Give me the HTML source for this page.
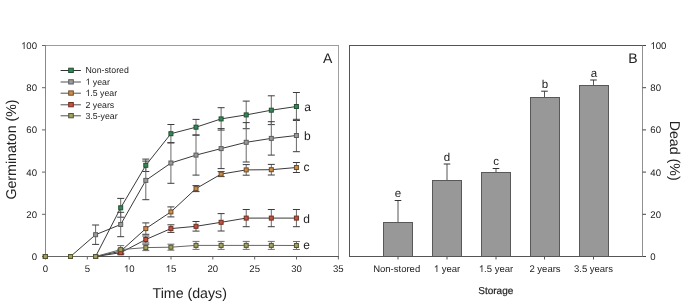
<!DOCTYPE html><html><head><meta charset="utf-8"><style>html,body{margin:0;padding:0;background:#fff;}svg{display:block;will-change:transform;}text{font-family:"Liberation Sans",sans-serif;fill:#222;text-rendering:geometricPrecision;}</style></head><body>
<svg width="685" height="304" viewBox="0 0 685 304">
<rect width="685" height="304" fill="#ffffff"/>
<line x1="45" y1="45.5" x2="339" y2="45.5" stroke="#9c9c9c" stroke-width="1"/>
<line x1="338.5" y1="45" x2="338.5" y2="257" stroke="#a0a0a0" stroke-width="1"/>
<line x1="45.5" y1="45" x2="45.5" y2="257" stroke="#888" stroke-width="1"/>
<line x1="45" y1="256.5" x2="339" y2="256.5" stroke="#555" stroke-width="1"/>
<line x1="42" y1="256.50" x2="45.5" y2="256.50" stroke="#666" stroke-width="1"/>
<text x="37.00" y="259.90" font-size="9.6" text-anchor="end">0</text>
<line x1="42" y1="214.30" x2="45.5" y2="214.30" stroke="#666" stroke-width="1"/>
<text x="37.00" y="217.70" font-size="9.6" text-anchor="end">20</text>
<line x1="42" y1="172.10" x2="45.5" y2="172.10" stroke="#666" stroke-width="1"/>
<text x="37.00" y="175.50" font-size="9.6" text-anchor="end">40</text>
<line x1="42" y1="129.90" x2="45.5" y2="129.90" stroke="#666" stroke-width="1"/>
<text x="37.00" y="133.30" font-size="9.6" text-anchor="end">60</text>
<line x1="42" y1="87.70" x2="45.5" y2="87.70" stroke="#666" stroke-width="1"/>
<text x="37.00" y="91.10" font-size="9.6" text-anchor="end">80</text>
<line x1="42" y1="45.50" x2="45.5" y2="45.50" stroke="#666" stroke-width="1"/>
<text x="20.98" y="48.90" font-size="9.6" style="font-kerning:none"> 00</text><path d="M763 0H583V1147C540 1106 483 1064 412 1023C342 982 278 951 221 930V1104C324 1152 412 1209 485 1276C558 1343 613 1408 645 1472H763Z" fill="#222" transform="translate(20.983,48.900) scale(0.00469,-0.00469)"/>
<line x1="45.50" y1="256.5" x2="45.50" y2="259.5" stroke="#666" stroke-width="1"/>
<text x="45.50" y="272.00" font-size="9.6" text-anchor="middle">0</text>
<line x1="87.34" y1="256.5" x2="87.34" y2="259.5" stroke="#666" stroke-width="1"/>
<text x="87.34" y="272.00" font-size="9.6" text-anchor="middle">5</text>
<line x1="129.17" y1="256.5" x2="129.17" y2="259.5" stroke="#666" stroke-width="1"/>
<text x="123.83" y="272.00" font-size="9.6" style="font-kerning:none"> 0</text><path d="M763 0H583V1147C540 1106 483 1064 412 1023C342 982 278 951 221 930V1104C324 1152 412 1209 485 1276C558 1343 613 1408 645 1472H763Z" fill="#222" transform="translate(123.831,272.000) scale(0.00469,-0.00469)"/>
<line x1="171.00" y1="256.5" x2="171.00" y2="259.5" stroke="#666" stroke-width="1"/>
<text x="165.67" y="272.00" font-size="9.6" style="font-kerning:none"> 5</text><path d="M763 0H583V1147C540 1106 483 1064 412 1023C342 982 278 951 221 930V1104C324 1152 412 1209 485 1276C558 1343 613 1408 645 1472H763Z" fill="#222" transform="translate(165.666,272.000) scale(0.00469,-0.00469)"/>
<line x1="212.84" y1="256.5" x2="212.84" y2="259.5" stroke="#666" stroke-width="1"/>
<text x="212.84" y="272.00" font-size="9.6" text-anchor="middle">20</text>
<line x1="254.68" y1="256.5" x2="254.68" y2="259.5" stroke="#666" stroke-width="1"/>
<text x="254.68" y="272.00" font-size="9.6" text-anchor="middle">25</text>
<line x1="296.51" y1="256.5" x2="296.51" y2="259.5" stroke="#666" stroke-width="1"/>
<text x="296.51" y="272.00" font-size="9.6" text-anchor="middle">30</text>
<line x1="338.35" y1="256.5" x2="338.35" y2="259.5" stroke="#666" stroke-width="1"/>
<text x="338.35" y="272.00" font-size="9.6" text-anchor="middle">35</text>
<line x1="120.70" y1="198.40" x2="120.70" y2="217.20" stroke="#6a6a6a" stroke-width="1"/>
<line x1="117.20" y1="198.40" x2="124.20" y2="198.40" stroke="#3c3c3c" stroke-width="1"/>
<line x1="117.20" y1="217.20" x2="124.20" y2="217.20" stroke="#3c3c3c" stroke-width="1"/>
<line x1="145.80" y1="159.10" x2="145.80" y2="171.50" stroke="#6a6a6a" stroke-width="1"/>
<line x1="142.30" y1="159.10" x2="149.30" y2="159.10" stroke="#3c3c3c" stroke-width="1"/>
<line x1="142.30" y1="171.50" x2="149.30" y2="171.50" stroke="#3c3c3c" stroke-width="1"/>
<line x1="170.91" y1="124.50" x2="170.91" y2="142.90" stroke="#6a6a6a" stroke-width="1"/>
<line x1="167.41" y1="124.50" x2="174.41" y2="124.50" stroke="#3c3c3c" stroke-width="1"/>
<line x1="167.41" y1="142.90" x2="174.41" y2="142.90" stroke="#3c3c3c" stroke-width="1"/>
<line x1="196.01" y1="119.40" x2="196.01" y2="135.00" stroke="#6a6a6a" stroke-width="1"/>
<line x1="192.51" y1="119.40" x2="199.51" y2="119.40" stroke="#3c3c3c" stroke-width="1"/>
<line x1="192.51" y1="135.00" x2="199.51" y2="135.00" stroke="#3c3c3c" stroke-width="1"/>
<line x1="221.11" y1="107.70" x2="221.11" y2="130.10" stroke="#6a6a6a" stroke-width="1"/>
<line x1="217.61" y1="107.70" x2="224.61" y2="107.70" stroke="#3c3c3c" stroke-width="1"/>
<line x1="217.61" y1="130.10" x2="224.61" y2="130.10" stroke="#3c3c3c" stroke-width="1"/>
<line x1="246.21" y1="101.10" x2="246.21" y2="128.70" stroke="#6a6a6a" stroke-width="1"/>
<line x1="242.71" y1="101.10" x2="249.71" y2="101.10" stroke="#3c3c3c" stroke-width="1"/>
<line x1="242.71" y1="128.70" x2="249.71" y2="128.70" stroke="#3c3c3c" stroke-width="1"/>
<line x1="271.31" y1="95.80" x2="271.31" y2="124.60" stroke="#6a6a6a" stroke-width="1"/>
<line x1="267.81" y1="95.80" x2="274.81" y2="95.80" stroke="#3c3c3c" stroke-width="1"/>
<line x1="267.81" y1="124.60" x2="274.81" y2="124.60" stroke="#3c3c3c" stroke-width="1"/>
<line x1="296.41" y1="92.50" x2="296.41" y2="120.50" stroke="#6a6a6a" stroke-width="1"/>
<line x1="292.91" y1="92.50" x2="299.91" y2="92.50" stroke="#3c3c3c" stroke-width="1"/>
<line x1="292.91" y1="120.50" x2="299.91" y2="120.50" stroke="#3c3c3c" stroke-width="1"/>
<line x1="95.60" y1="225.00" x2="95.60" y2="244.40" stroke="#6a6a6a" stroke-width="1"/>
<line x1="92.10" y1="225.00" x2="99.10" y2="225.00" stroke="#3c3c3c" stroke-width="1"/>
<line x1="92.10" y1="244.40" x2="99.10" y2="244.40" stroke="#3c3c3c" stroke-width="1"/>
<line x1="120.70" y1="212.30" x2="120.70" y2="236.70" stroke="#6a6a6a" stroke-width="1"/>
<line x1="117.20" y1="212.30" x2="124.20" y2="212.30" stroke="#3c3c3c" stroke-width="1"/>
<line x1="117.20" y1="236.70" x2="124.20" y2="236.70" stroke="#3c3c3c" stroke-width="1"/>
<line x1="145.80" y1="161.10" x2="145.80" y2="199.70" stroke="#6a6a6a" stroke-width="1"/>
<line x1="142.30" y1="161.10" x2="149.30" y2="161.10" stroke="#3c3c3c" stroke-width="1"/>
<line x1="142.30" y1="199.70" x2="149.30" y2="199.70" stroke="#3c3c3c" stroke-width="1"/>
<line x1="170.91" y1="142.70" x2="170.91" y2="183.30" stroke="#6a6a6a" stroke-width="1"/>
<line x1="167.41" y1="142.70" x2="174.41" y2="142.70" stroke="#3c3c3c" stroke-width="1"/>
<line x1="167.41" y1="183.30" x2="174.41" y2="183.30" stroke="#3c3c3c" stroke-width="1"/>
<line x1="196.01" y1="135.10" x2="196.01" y2="175.10" stroke="#6a6a6a" stroke-width="1"/>
<line x1="192.51" y1="135.10" x2="199.51" y2="135.10" stroke="#3c3c3c" stroke-width="1"/>
<line x1="192.51" y1="175.10" x2="199.51" y2="175.10" stroke="#3c3c3c" stroke-width="1"/>
<line x1="221.11" y1="128.60" x2="221.11" y2="168.60" stroke="#6a6a6a" stroke-width="1"/>
<line x1="217.61" y1="128.60" x2="224.61" y2="128.60" stroke="#3c3c3c" stroke-width="1"/>
<line x1="217.61" y1="168.60" x2="224.61" y2="168.60" stroke="#3c3c3c" stroke-width="1"/>
<line x1="246.21" y1="122.60" x2="246.21" y2="162.00" stroke="#6a6a6a" stroke-width="1"/>
<line x1="242.71" y1="122.60" x2="249.71" y2="122.60" stroke="#3c3c3c" stroke-width="1"/>
<line x1="242.71" y1="162.00" x2="249.71" y2="162.00" stroke="#3c3c3c" stroke-width="1"/>
<line x1="271.31" y1="121.70" x2="271.31" y2="155.10" stroke="#6a6a6a" stroke-width="1"/>
<line x1="267.81" y1="121.70" x2="274.81" y2="121.70" stroke="#3c3c3c" stroke-width="1"/>
<line x1="267.81" y1="155.10" x2="274.81" y2="155.10" stroke="#3c3c3c" stroke-width="1"/>
<line x1="296.41" y1="119.30" x2="296.41" y2="151.70" stroke="#6a6a6a" stroke-width="1"/>
<line x1="292.91" y1="119.30" x2="299.91" y2="119.30" stroke="#3c3c3c" stroke-width="1"/>
<line x1="292.91" y1="151.70" x2="299.91" y2="151.70" stroke="#3c3c3c" stroke-width="1"/>
<line x1="120.70" y1="249.20" x2="120.70" y2="253.20" stroke="#6a6a6a" stroke-width="1"/>
<line x1="117.20" y1="249.20" x2="124.20" y2="249.20" stroke="#3c3c3c" stroke-width="1"/>
<line x1="117.20" y1="253.20" x2="124.20" y2="253.20" stroke="#3c3c3c" stroke-width="1"/>
<line x1="145.80" y1="222.90" x2="145.80" y2="234.30" stroke="#6a6a6a" stroke-width="1"/>
<line x1="142.30" y1="222.90" x2="149.30" y2="222.90" stroke="#3c3c3c" stroke-width="1"/>
<line x1="142.30" y1="234.30" x2="149.30" y2="234.30" stroke="#3c3c3c" stroke-width="1"/>
<line x1="170.91" y1="206.90" x2="170.91" y2="216.90" stroke="#6a6a6a" stroke-width="1"/>
<line x1="167.41" y1="206.90" x2="174.41" y2="206.90" stroke="#3c3c3c" stroke-width="1"/>
<line x1="167.41" y1="216.90" x2="174.41" y2="216.90" stroke="#3c3c3c" stroke-width="1"/>
<line x1="196.01" y1="185.60" x2="196.01" y2="191.60" stroke="#6a6a6a" stroke-width="1"/>
<line x1="192.51" y1="185.60" x2="199.51" y2="185.60" stroke="#3c3c3c" stroke-width="1"/>
<line x1="192.51" y1="191.60" x2="199.51" y2="191.60" stroke="#3c3c3c" stroke-width="1"/>
<line x1="221.11" y1="171.60" x2="221.11" y2="176.60" stroke="#6a6a6a" stroke-width="1"/>
<line x1="217.61" y1="171.60" x2="224.61" y2="171.60" stroke="#3c3c3c" stroke-width="1"/>
<line x1="217.61" y1="176.60" x2="224.61" y2="176.60" stroke="#3c3c3c" stroke-width="1"/>
<line x1="246.21" y1="164.60" x2="246.21" y2="175.20" stroke="#6a6a6a" stroke-width="1"/>
<line x1="242.71" y1="164.60" x2="249.71" y2="164.60" stroke="#3c3c3c" stroke-width="1"/>
<line x1="242.71" y1="175.20" x2="249.71" y2="175.20" stroke="#3c3c3c" stroke-width="1"/>
<line x1="271.31" y1="164.40" x2="271.31" y2="175.00" stroke="#6a6a6a" stroke-width="1"/>
<line x1="267.81" y1="164.40" x2="274.81" y2="164.40" stroke="#3c3c3c" stroke-width="1"/>
<line x1="267.81" y1="175.00" x2="274.81" y2="175.00" stroke="#3c3c3c" stroke-width="1"/>
<line x1="296.41" y1="162.50" x2="296.41" y2="172.50" stroke="#6a6a6a" stroke-width="1"/>
<line x1="292.91" y1="162.50" x2="299.91" y2="162.50" stroke="#3c3c3c" stroke-width="1"/>
<line x1="292.91" y1="172.50" x2="299.91" y2="172.50" stroke="#3c3c3c" stroke-width="1"/>
<line x1="120.70" y1="250.70" x2="120.70" y2="254.70" stroke="#6a6a6a" stroke-width="1"/>
<line x1="117.20" y1="250.70" x2="124.20" y2="250.70" stroke="#3c3c3c" stroke-width="1"/>
<line x1="117.20" y1="254.70" x2="124.20" y2="254.70" stroke="#3c3c3c" stroke-width="1"/>
<line x1="145.80" y1="236.00" x2="145.80" y2="243.00" stroke="#6a6a6a" stroke-width="1"/>
<line x1="142.30" y1="236.00" x2="149.30" y2="236.00" stroke="#3c3c3c" stroke-width="1"/>
<line x1="142.30" y1="243.00" x2="149.30" y2="243.00" stroke="#3c3c3c" stroke-width="1"/>
<line x1="170.91" y1="224.80" x2="170.91" y2="232.40" stroke="#6a6a6a" stroke-width="1"/>
<line x1="167.41" y1="224.80" x2="174.41" y2="224.80" stroke="#3c3c3c" stroke-width="1"/>
<line x1="167.41" y1="232.40" x2="174.41" y2="232.40" stroke="#3c3c3c" stroke-width="1"/>
<line x1="196.01" y1="221.50" x2="196.01" y2="231.10" stroke="#6a6a6a" stroke-width="1"/>
<line x1="192.51" y1="221.50" x2="199.51" y2="221.50" stroke="#3c3c3c" stroke-width="1"/>
<line x1="192.51" y1="231.10" x2="199.51" y2="231.10" stroke="#3c3c3c" stroke-width="1"/>
<line x1="221.11" y1="213.60" x2="221.11" y2="231.00" stroke="#6a6a6a" stroke-width="1"/>
<line x1="217.61" y1="213.60" x2="224.61" y2="213.60" stroke="#3c3c3c" stroke-width="1"/>
<line x1="217.61" y1="231.00" x2="224.61" y2="231.00" stroke="#3c3c3c" stroke-width="1"/>
<line x1="246.21" y1="209.50" x2="246.21" y2="226.70" stroke="#6a6a6a" stroke-width="1"/>
<line x1="242.71" y1="209.50" x2="249.71" y2="209.50" stroke="#3c3c3c" stroke-width="1"/>
<line x1="242.71" y1="226.70" x2="249.71" y2="226.70" stroke="#3c3c3c" stroke-width="1"/>
<line x1="271.31" y1="209.50" x2="271.31" y2="226.70" stroke="#6a6a6a" stroke-width="1"/>
<line x1="267.81" y1="209.50" x2="274.81" y2="209.50" stroke="#3c3c3c" stroke-width="1"/>
<line x1="267.81" y1="226.70" x2="274.81" y2="226.70" stroke="#3c3c3c" stroke-width="1"/>
<line x1="296.41" y1="209.50" x2="296.41" y2="226.70" stroke="#6a6a6a" stroke-width="1"/>
<line x1="292.91" y1="209.50" x2="299.91" y2="209.50" stroke="#3c3c3c" stroke-width="1"/>
<line x1="292.91" y1="226.70" x2="299.91" y2="226.70" stroke="#3c3c3c" stroke-width="1"/>
<line x1="120.70" y1="245.60" x2="120.70" y2="253.60" stroke="#6a6a6a" stroke-width="1"/>
<line x1="117.20" y1="245.60" x2="124.20" y2="245.60" stroke="#707070" stroke-width="1"/>
<line x1="117.20" y1="253.60" x2="124.20" y2="253.60" stroke="#707070" stroke-width="1"/>
<line x1="145.80" y1="244.60" x2="145.80" y2="250.60" stroke="#6a6a6a" stroke-width="1"/>
<line x1="142.30" y1="244.60" x2="149.30" y2="244.60" stroke="#707070" stroke-width="1"/>
<line x1="142.30" y1="250.60" x2="149.30" y2="250.60" stroke="#707070" stroke-width="1"/>
<line x1="170.91" y1="244.20" x2="170.91" y2="250.20" stroke="#6a6a6a" stroke-width="1"/>
<line x1="167.41" y1="244.20" x2="174.41" y2="244.20" stroke="#707070" stroke-width="1"/>
<line x1="167.41" y1="250.20" x2="174.41" y2="250.20" stroke="#707070" stroke-width="1"/>
<line x1="196.01" y1="241.40" x2="196.01" y2="249.40" stroke="#6a6a6a" stroke-width="1"/>
<line x1="192.51" y1="241.40" x2="199.51" y2="241.40" stroke="#707070" stroke-width="1"/>
<line x1="192.51" y1="249.40" x2="199.51" y2="249.40" stroke="#707070" stroke-width="1"/>
<line x1="221.11" y1="241.40" x2="221.11" y2="249.40" stroke="#6a6a6a" stroke-width="1"/>
<line x1="217.61" y1="241.40" x2="224.61" y2="241.40" stroke="#707070" stroke-width="1"/>
<line x1="217.61" y1="249.40" x2="224.61" y2="249.40" stroke="#707070" stroke-width="1"/>
<line x1="246.21" y1="241.40" x2="246.21" y2="249.40" stroke="#6a6a6a" stroke-width="1"/>
<line x1="242.71" y1="241.40" x2="249.71" y2="241.40" stroke="#707070" stroke-width="1"/>
<line x1="242.71" y1="249.40" x2="249.71" y2="249.40" stroke="#707070" stroke-width="1"/>
<line x1="271.31" y1="241.40" x2="271.31" y2="249.40" stroke="#6a6a6a" stroke-width="1"/>
<line x1="267.81" y1="241.40" x2="274.81" y2="241.40" stroke="#707070" stroke-width="1"/>
<line x1="267.81" y1="249.40" x2="274.81" y2="249.40" stroke="#707070" stroke-width="1"/>
<line x1="296.41" y1="241.50" x2="296.41" y2="249.50" stroke="#6a6a6a" stroke-width="1"/>
<line x1="292.91" y1="241.50" x2="299.91" y2="241.50" stroke="#707070" stroke-width="1"/>
<line x1="292.91" y1="249.50" x2="299.91" y2="249.50" stroke="#707070" stroke-width="1"/>
<polyline points="45.40,256.50 70.50,256.50 95.60,256.50 120.70,207.80 145.80,165.30 170.91,133.70 196.01,127.20 221.11,118.90 246.21,114.90 271.31,110.20 296.41,106.50" fill="none" stroke="#3a3a3a" stroke-width="1"/>
<polyline points="45.40,256.50 70.50,256.50 95.60,234.70 120.70,224.50 145.80,180.40 170.91,163.00 196.01,155.10 221.11,148.60 246.21,142.30 271.31,138.40 296.41,135.50" fill="none" stroke="#3a3a3a" stroke-width="1"/>
<polyline points="45.40,256.50 70.50,256.50 95.60,256.50 120.70,251.20 145.80,228.60 170.91,211.90 196.01,188.60 221.11,174.10 246.21,169.90 271.31,169.70 296.41,167.50" fill="none" stroke="#3a3a3a" stroke-width="1"/>
<polyline points="45.40,256.50 70.50,256.50 95.60,256.50 120.70,252.70 145.80,239.50 170.91,228.60 196.01,226.30 221.11,222.30 246.21,218.10 271.31,218.10 296.41,218.10" fill="none" stroke="#3a3a3a" stroke-width="1"/>
<polyline points="45.40,256.50 70.50,256.50 95.60,256.50 120.70,249.60 145.80,247.60 170.91,247.20 196.01,245.40 221.11,245.40 246.21,245.40 271.31,245.40 296.41,245.50" fill="none" stroke="#666" stroke-width="1"/>
<rect x="43.40" y="254.50" width="4" height="4" fill="#2f8a52" stroke="#254d33" stroke-width="1"/>
<rect x="68.50" y="254.50" width="4" height="4" fill="#2f8a52" stroke="#254d33" stroke-width="1"/>
<rect x="93.60" y="254.50" width="4" height="4" fill="#2f8a52" stroke="#254d33" stroke-width="1"/>
<rect x="118.70" y="205.80" width="4" height="4" fill="#2f8a52" stroke="#254d33" stroke-width="1"/>
<rect x="143.80" y="163.30" width="4" height="4" fill="#2f8a52" stroke="#254d33" stroke-width="1"/>
<rect x="168.91" y="131.70" width="4" height="4" fill="#2f8a52" stroke="#254d33" stroke-width="1"/>
<rect x="194.01" y="125.20" width="4" height="4" fill="#2f8a52" stroke="#254d33" stroke-width="1"/>
<rect x="219.11" y="116.90" width="4" height="4" fill="#2f8a52" stroke="#254d33" stroke-width="1"/>
<rect x="244.21" y="112.90" width="4" height="4" fill="#2f8a52" stroke="#254d33" stroke-width="1"/>
<rect x="269.31" y="108.20" width="4" height="4" fill="#2f8a52" stroke="#254d33" stroke-width="1"/>
<rect x="294.41" y="104.50" width="4" height="4" fill="#2f8a52" stroke="#254d33" stroke-width="1"/>
<rect x="43.40" y="254.50" width="4" height="4" fill="#9a9a9a" stroke="#5e5e5e" stroke-width="1"/>
<rect x="68.50" y="254.50" width="4" height="4" fill="#9a9a9a" stroke="#5e5e5e" stroke-width="1"/>
<rect x="93.60" y="232.70" width="4" height="4" fill="#9a9a9a" stroke="#5e5e5e" stroke-width="1"/>
<rect x="118.70" y="222.50" width="4" height="4" fill="#9a9a9a" stroke="#5e5e5e" stroke-width="1"/>
<rect x="143.80" y="178.40" width="4" height="4" fill="#9a9a9a" stroke="#5e5e5e" stroke-width="1"/>
<rect x="168.91" y="161.00" width="4" height="4" fill="#9a9a9a" stroke="#5e5e5e" stroke-width="1"/>
<rect x="194.01" y="153.10" width="4" height="4" fill="#9a9a9a" stroke="#5e5e5e" stroke-width="1"/>
<rect x="219.11" y="146.60" width="4" height="4" fill="#9a9a9a" stroke="#5e5e5e" stroke-width="1"/>
<rect x="244.21" y="140.30" width="4" height="4" fill="#9a9a9a" stroke="#5e5e5e" stroke-width="1"/>
<rect x="269.31" y="136.40" width="4" height="4" fill="#9a9a9a" stroke="#5e5e5e" stroke-width="1"/>
<rect x="294.41" y="133.50" width="4" height="4" fill="#9a9a9a" stroke="#5e5e5e" stroke-width="1"/>
<rect x="43.40" y="254.50" width="4" height="4" fill="#d28c46" stroke="#6a4c30" stroke-width="1"/>
<rect x="68.50" y="254.50" width="4" height="4" fill="#d28c46" stroke="#6a4c30" stroke-width="1"/>
<rect x="93.60" y="254.50" width="4" height="4" fill="#d28c46" stroke="#6a4c30" stroke-width="1"/>
<rect x="118.70" y="249.20" width="4" height="4" fill="#d28c46" stroke="#6a4c30" stroke-width="1"/>
<rect x="143.80" y="226.60" width="4" height="4" fill="#d28c46" stroke="#6a4c30" stroke-width="1"/>
<rect x="168.91" y="209.90" width="4" height="4" fill="#d28c46" stroke="#6a4c30" stroke-width="1"/>
<rect x="194.01" y="186.60" width="4" height="4" fill="#d28c46" stroke="#6a4c30" stroke-width="1"/>
<rect x="219.11" y="172.10" width="4" height="4" fill="#d28c46" stroke="#6a4c30" stroke-width="1"/>
<rect x="244.21" y="167.90" width="4" height="4" fill="#d28c46" stroke="#6a4c30" stroke-width="1"/>
<rect x="269.31" y="167.70" width="4" height="4" fill="#d28c46" stroke="#6a4c30" stroke-width="1"/>
<rect x="294.41" y="165.50" width="4" height="4" fill="#d28c46" stroke="#6a4c30" stroke-width="1"/>
<rect x="43.40" y="254.50" width="4" height="4" fill="#c9503b" stroke="#6e3024" stroke-width="1"/>
<rect x="68.50" y="254.50" width="4" height="4" fill="#c9503b" stroke="#6e3024" stroke-width="1"/>
<rect x="93.60" y="254.50" width="4" height="4" fill="#c9503b" stroke="#6e3024" stroke-width="1"/>
<rect x="118.70" y="250.70" width="4" height="4" fill="#c9503b" stroke="#6e3024" stroke-width="1"/>
<rect x="143.80" y="237.50" width="4" height="4" fill="#c9503b" stroke="#6e3024" stroke-width="1"/>
<rect x="168.91" y="226.60" width="4" height="4" fill="#c9503b" stroke="#6e3024" stroke-width="1"/>
<rect x="194.01" y="224.30" width="4" height="4" fill="#c9503b" stroke="#6e3024" stroke-width="1"/>
<rect x="219.11" y="220.30" width="4" height="4" fill="#c9503b" stroke="#6e3024" stroke-width="1"/>
<rect x="244.21" y="216.10" width="4" height="4" fill="#c9503b" stroke="#6e3024" stroke-width="1"/>
<rect x="269.31" y="216.10" width="4" height="4" fill="#c9503b" stroke="#6e3024" stroke-width="1"/>
<rect x="294.41" y="216.10" width="4" height="4" fill="#c9503b" stroke="#6e3024" stroke-width="1"/>
<rect x="43.40" y="254.50" width="4" height="4" fill="#a2a160" stroke="#55552e" stroke-width="1"/>
<rect x="68.50" y="254.50" width="4" height="4" fill="#a2a160" stroke="#55552e" stroke-width="1"/>
<rect x="93.60" y="254.50" width="4" height="4" fill="#a2a160" stroke="#55552e" stroke-width="1"/>
<rect x="118.70" y="247.60" width="4" height="4" fill="#a2a160" stroke="#55552e" stroke-width="1"/>
<rect x="143.80" y="245.60" width="4" height="4" fill="#a2a160" stroke="#55552e" stroke-width="1"/>
<rect x="168.91" y="245.20" width="4" height="4" fill="#a2a160" stroke="#55552e" stroke-width="1"/>
<rect x="194.01" y="243.40" width="4" height="4" fill="#a2a160" stroke="#55552e" stroke-width="1"/>
<rect x="219.11" y="243.40" width="4" height="4" fill="#a2a160" stroke="#55552e" stroke-width="1"/>
<rect x="244.21" y="243.40" width="4" height="4" fill="#a2a160" stroke="#55552e" stroke-width="1"/>
<rect x="269.31" y="243.40" width="4" height="4" fill="#a2a160" stroke="#55552e" stroke-width="1"/>
<rect x="294.41" y="243.50" width="4" height="4" fill="#a2a160" stroke="#55552e" stroke-width="1"/>
<text x="304.2" y="110.6" font-size="12">a</text>
<text x="303.9" y="140.0" font-size="12">b</text>
<text x="303.4" y="170.8" font-size="12">c</text>
<text x="303.3" y="222.8" font-size="12">d</text>
<text x="303.3" y="248.8" font-size="12">e</text>
<line x1="60.6" y1="70.5" x2="80.9" y2="70.5" stroke="#333" stroke-width="1"/>
<rect x="68.7" y="68.2" width="4.6" height="4.3" fill="#2f8a52" stroke="#254d33" stroke-width="1"/>
<text x="85.50" y="73.20" font-size="8.75">Non-stored</text>
<line x1="60.6" y1="82" x2="80.9" y2="82" stroke="#505050" stroke-width="1"/>
<rect x="68.7" y="79.7" width="4.6" height="4.3" fill="#9a9a9a" stroke="#5e5e5e" stroke-width="1"/>
<text x="85.50" y="84.70" font-size="8.75" style="font-kerning:none">  year</text><path d="M763 0H583V1147C540 1106 483 1064 412 1023C342 982 278 951 221 930V1104C324 1152 412 1209 485 1276C558 1343 613 1408 645 1472H763Z" fill="#222" transform="translate(85.500,84.700) scale(0.00427,-0.00427)"/>
<line x1="60.6" y1="93.2" x2="80.9" y2="93.2" stroke="#505050" stroke-width="1"/>
<rect x="68.7" y="90.9" width="4.6" height="4.3" fill="#d28c46" stroke="#6a4c30" stroke-width="1"/>
<text x="85.50" y="95.90" font-size="8.75" style="font-kerning:none"> .5 year</text><path d="M763 0H583V1147C540 1106 483 1064 412 1023C342 982 278 951 221 930V1104C324 1152 412 1209 485 1276C558 1343 613 1408 645 1472H763Z" fill="#222" transform="translate(85.500,95.900) scale(0.00427,-0.00427)"/>
<line x1="60.6" y1="104.8" x2="80.9" y2="104.8" stroke="#505050" stroke-width="1"/>
<rect x="68.7" y="102.5" width="4.6" height="4.3" fill="#c9503b" stroke="#6e3024" stroke-width="1"/>
<text x="85.50" y="107.50" font-size="8.75">2 years</text>
<line x1="60.6" y1="115.8" x2="80.9" y2="115.8" stroke="#505050" stroke-width="1"/>
<rect x="68.7" y="113.5" width="4.6" height="4.3" fill="#a2a160" stroke="#55552e" stroke-width="1"/>
<text x="85.50" y="118.50" font-size="8.75">3.5-year</text>
<text x="323" y="62.9" font-size="14">A</text>
<text x="189.75" y="297.6" font-size="14.2" text-anchor="middle">Time (days)</text>
<text transform="translate(16.3,149.5) rotate(-90)" font-size="14.2" text-anchor="middle">Germinaton (%)</text>
<line x1="398" y1="200.5" x2="398" y2="222" stroke="#555" stroke-width="1"/>
<line x1="394.7" y1="200.5" x2="401.3" y2="200.5" stroke="#333" stroke-width="1"/>
<rect x="383.5" y="222.5" width="29" height="34" fill="#979897" stroke="#585858" stroke-width="1"/>
<line x1="398" y1="256.5" x2="398" y2="259.5" stroke="#555" stroke-width="1"/>
<text x="396.70" y="271.90" font-size="9.5" text-anchor="middle">Non-stored</text>
<text x="398.0" y="197.30" font-size="11.5" text-anchor="middle">e</text>
<line x1="447" y1="164" x2="447" y2="180" stroke="#555" stroke-width="1"/>
<line x1="443.7" y1="164" x2="450.3" y2="164" stroke="#333" stroke-width="1"/>
<rect x="432.5" y="180.5" width="29" height="76" fill="#979897" stroke="#585858" stroke-width="1"/>
<line x1="447" y1="256.5" x2="447" y2="259.5" stroke="#555" stroke-width="1"/>
<text x="433.80" y="271.90" font-size="9.5" style="font-kerning:none">  year</text><path d="M763 0H583V1147C540 1106 483 1064 412 1023C342 982 278 951 221 930V1104C324 1152 412 1209 485 1276C558 1343 613 1408 645 1472H763Z" fill="#222" transform="translate(433.798,271.900) scale(0.00464,-0.00464)"/>
<text x="447.0" y="160.80" font-size="11.5" text-anchor="middle">d</text>
<line x1="496" y1="168.5" x2="496" y2="172" stroke="#555" stroke-width="1"/>
<line x1="492.7" y1="168.5" x2="499.3" y2="168.5" stroke="#333" stroke-width="1"/>
<rect x="481.5" y="172.5" width="29" height="84" fill="#979897" stroke="#585858" stroke-width="1"/>
<line x1="496" y1="256.5" x2="496" y2="259.5" stroke="#555" stroke-width="1"/>
<text x="478.84" y="271.90" font-size="9.5" style="font-kerning:none"> .5 year</text><path d="M763 0H583V1147C540 1106 483 1064 412 1023C342 982 278 951 221 930V1104C324 1152 412 1209 485 1276C558 1343 613 1408 645 1472H763Z" fill="#222" transform="translate(478.837,271.900) scale(0.00464,-0.00464)"/>
<text x="496.0" y="165.30" font-size="11.5" text-anchor="middle">c</text>
<line x1="544.5" y1="91.2" x2="544.5" y2="97" stroke="#555" stroke-width="1"/>
<line x1="541.2" y1="91.2" x2="547.8" y2="91.2" stroke="#333" stroke-width="1"/>
<rect x="530.5" y="97.5" width="29" height="159" fill="#979897" stroke="#585858" stroke-width="1"/>
<line x1="544.5" y1="256.5" x2="544.5" y2="259.5" stroke="#555" stroke-width="1"/>
<text x="545.00" y="271.90" font-size="9.5" text-anchor="middle">2 years</text>
<text x="545.0" y="88.00" font-size="11.5" text-anchor="middle">b</text>
<line x1="593.5" y1="80" x2="593.5" y2="85" stroke="#555" stroke-width="1"/>
<line x1="590.2" y1="80" x2="596.8" y2="80" stroke="#333" stroke-width="1"/>
<rect x="579.5" y="85.5" width="29" height="171" fill="#979897" stroke="#585858" stroke-width="1"/>
<line x1="593.5" y1="256.5" x2="593.5" y2="259.5" stroke="#555" stroke-width="1"/>
<text x="593.50" y="271.90" font-size="9.5" text-anchor="middle">3.5 years</text>
<text x="594.0" y="76.80" font-size="11.5" text-anchor="middle">a</text>
<line x1="349" y1="45.5" x2="643" y2="45.5" stroke="#555" stroke-width="1"/>
<line x1="349.5" y1="45" x2="349.5" y2="257" stroke="#555" stroke-width="1"/>
<line x1="349" y1="256.5" x2="643" y2="256.5" stroke="#555" stroke-width="1"/>
<line x1="642.5" y1="45" x2="642.5" y2="257" stroke="#909090" stroke-width="1"/>
<line x1="642.5" y1="256.50" x2="646" y2="256.50" stroke="#444" stroke-width="1"/>
<text x="650.30" y="259.90" font-size="9.6">0</text>
<line x1="642.5" y1="214.30" x2="646" y2="214.30" stroke="#444" stroke-width="1"/>
<text x="650.30" y="217.70" font-size="9.6">20</text>
<line x1="642.5" y1="172.10" x2="646" y2="172.10" stroke="#444" stroke-width="1"/>
<text x="650.30" y="175.50" font-size="9.6">40</text>
<line x1="642.5" y1="129.90" x2="646" y2="129.90" stroke="#444" stroke-width="1"/>
<text x="650.30" y="133.30" font-size="9.6">60</text>
<line x1="642.5" y1="87.70" x2="646" y2="87.70" stroke="#444" stroke-width="1"/>
<text x="650.30" y="91.10" font-size="9.6">80</text>
<line x1="642.5" y1="45.50" x2="646" y2="45.50" stroke="#444" stroke-width="1"/>
<text x="650.30" y="48.90" font-size="9.6" style="font-kerning:none"> 00</text><path d="M763 0H583V1147C540 1106 483 1064 412 1023C342 982 278 951 221 930V1104C324 1152 412 1209 485 1276C558 1343 613 1408 645 1472H763Z" fill="#222" transform="translate(650.300,48.900) scale(0.00469,-0.00469)"/>
<text x="628.2" y="62.8" font-size="14">B</text>
<text x="495.8" y="293.7" font-size="10" text-anchor="middle" stroke="#222" stroke-width="0.2">Storage</text>
<text transform="translate(669.5,150.7) rotate(90)" font-size="14.2" text-anchor="middle">Dead (%)</text>
</svg></body></html>
